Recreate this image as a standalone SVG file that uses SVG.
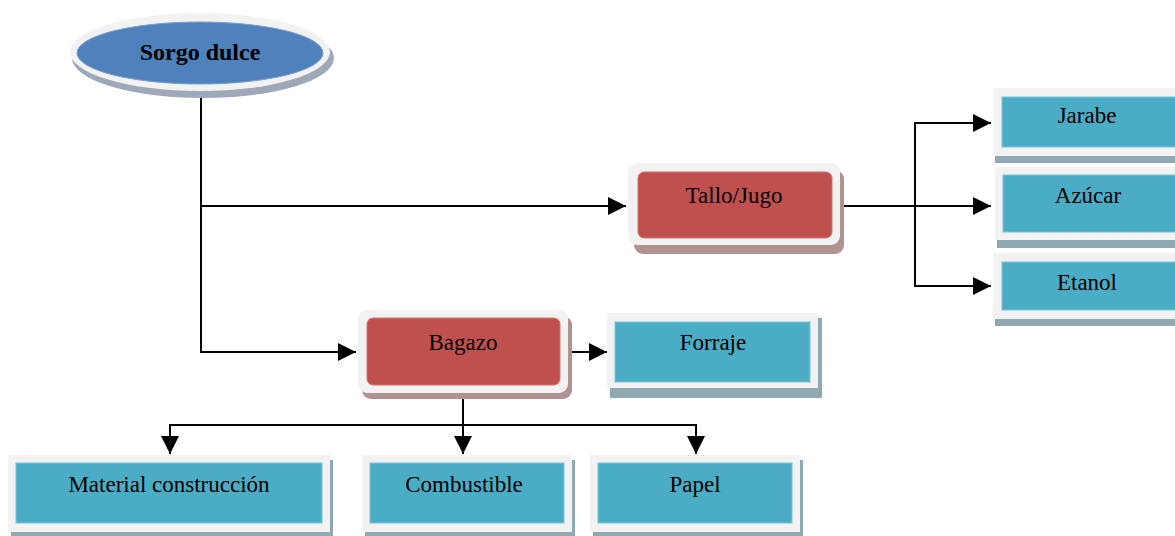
<svg xmlns="http://www.w3.org/2000/svg" width="1175" height="536" viewBox="0 0 1175 536">
<defs>
<style>
.lbl{font-family:"Liberation Serif","Times New Roman",serif;font-size:23px;fill:#000;text-anchor:middle}
.bold{font-weight:bold;font-size:24px}
.frame{fill:#F2F2F2}
.bshadow{fill:#8FA9B3}
.rshadow{fill:#B09292}
.eshadow{fill:#9EA8B8}
.teal{fill:#4BACC6;stroke:#7CC3D6;stroke-width:1}
.red{fill:#C0504D;stroke:#CF7673;stroke-width:1}
.blue{fill:#4F81BD;stroke:#7A9FCD;stroke-width:1}
.conn{fill:none;stroke:#000;stroke-width:2}
</style>
<marker id="arrL" viewBox="0 0 10 10" refX="10" refY="5" markerWidth="18" markerHeight="18" markerUnits="userSpaceOnUse" orient="auto">
<path d="M0,0 L10,5 L0,10 z" fill="#000"/>
</marker>
</defs>

<g id="connectors">
<path class="conn" d="M201,97 V352 H356" marker-end="url(#arrL)"/>
<path class="conn" d="M201,206 H626" marker-end="url(#arrL)"/>
<path class="conn" d="M840,206 H991" marker-end="url(#arrL)"/>
<path class="conn" d="M915,206 V123 H991" marker-end="url(#arrL)"/>
<path class="conn" d="M915,206 V286 H991" marker-end="url(#arrL)"/>
<path class="conn" d="M568,352 H607" marker-end="url(#arrL)"/>
<path class="conn" d="M463,397 V425 H170 V454" marker-end="url(#arrL)"/>
<path class="conn" d="M463,425 V454" marker-end="url(#arrL)"/>
<path class="conn" d="M463,425 H696 V454" marker-end="url(#arrL)"/>
</g>

<g id="sorgo">
<ellipse class="eshadow" cx="203" cy="58" rx="131" ry="40"/>
<ellipse class="frame" cx="200" cy="52" rx="130" ry="39"/>
<ellipse class="blue" cx="200" cy="53" rx="123" ry="31"/>
<text class="lbl bold" x="200" y="60">Sorgo dulce</text>
</g>

<g id="tallo">
<rect class="rshadow" x="634" y="170" width="210" height="84" rx="9"/>
<rect class="frame" x="628" y="163" width="212" height="82" rx="9"/>
<rect class="red" x="638" y="172" width="194" height="66" rx="6"/>
<text class="lbl" x="734" y="203">Tallo/Jugo</text>
</g>

<g id="bagazo">
<rect class="rshadow" x="362" y="316" width="210" height="83" rx="9"/>
<rect class="frame" x="358" y="310" width="210" height="83" rx="9"/>
<rect class="red" x="367" y="318" width="193" height="67" rx="6"/>
<text class="lbl" x="463" y="350">Bagazo</text>
</g>

<g id="forraje">
<rect class="bshadow" x="610" y="318" width="212" height="80"/>
<rect class="frame" x="607" y="313" width="211" height="75"/>
<rect class="teal" x="615" y="322" width="195" height="60"/>
<text class="lbl" x="713" y="350">Forraje</text>
</g>

<g id="jarabe">
<rect class="bshadow" x="995" y="94" width="180" height="69"/>
<rect class="frame" x="993" y="88" width="182" height="68"/>
<rect class="teal" x="1002" y="97" width="180" height="50"/>
<text class="lbl" x="1087" y="123">Jarabe</text>
</g>

<g id="azucar">
<rect class="bshadow" x="997" y="173" width="178" height="75"/>
<rect class="frame" x="995" y="167" width="180" height="73"/>
<rect class="teal" x="1003" y="175" width="180" height="57"/>
<text class="lbl" x="1088" y="203">Azúcar</text>
</g>

<g id="etanol">
<rect class="bshadow" x="995" y="259" width="180" height="67"/>
<rect class="frame" x="993" y="253" width="182" height="66"/>
<rect class="teal" x="1002" y="262" width="180" height="48"/>
<text class="lbl" x="1087" y="290">Etanol</text>
</g>

<g id="material">
<rect class="bshadow" x="11" y="460" width="322" height="76"/>
<rect class="frame" x="8" y="455" width="322" height="77"/>
<rect class="teal" x="16" y="463" width="306" height="60"/>
<text class="lbl" x="169" y="492">Material construcción</text>
</g>

<g id="combustible">
<rect class="bshadow" x="365" y="460" width="210" height="76"/>
<rect class="frame" x="362" y="455" width="210" height="77"/>
<rect class="teal" x="370" y="463" width="194" height="60"/>
<text class="lbl" x="464" y="492">Combustible</text>
</g>

<g id="papel">
<rect class="bshadow" x="593" y="460" width="210" height="76"/>
<rect class="frame" x="590" y="455" width="210" height="77"/>
<rect class="teal" x="598" y="463" width="194" height="60"/>
<text class="lbl" x="695" y="492">Papel</text>
</g>
</svg>
